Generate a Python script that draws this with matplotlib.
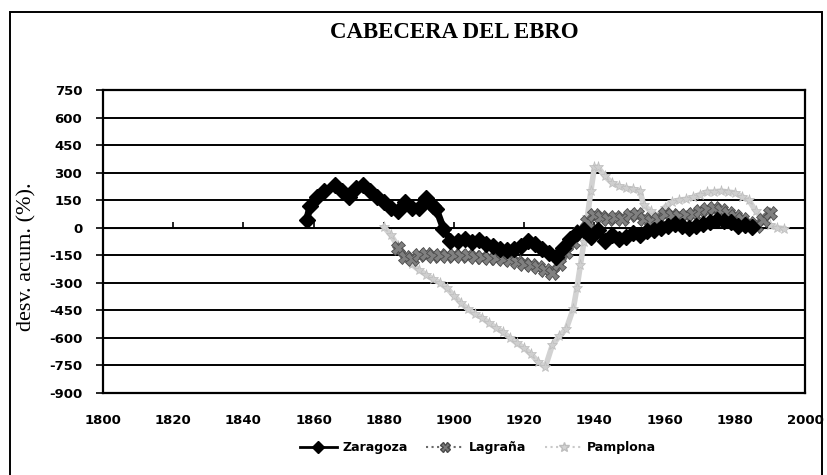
import matplotlib
matplotlib.use("Agg")
import matplotlib.pyplot as plt
from matplotlib.lines import Line2D
from matplotlib.patches import Rectangle

plt.rcParams['axes.unicode_minus'] = False

# series (year, cumulative deviation %)
zar_years = [1858, 1859, 1861, 1863, 1866, 1868, 1870, 1872, 1874, 1876, 1878, 1880,
             1882, 1884, 1886, 1888, 1890, 1892, 1894, 1895, 1897, 1899, 1901, 1903,
             1905, 1907, 1909, 1911, 1913, 1915, 1917, 1919, 1921, 1923, 1925, 1927,
             1929, 1931, 1933, 1935, 1937, 1939, 1941, 1943, 1945, 1947, 1949, 1951,
             1953, 1955, 1957, 1959, 1961, 1963, 1965, 1967, 1969, 1971, 1973, 1975,
             1977, 1979, 1981, 1983, 1985]
zar_vals = [40, 120, 170, 200, 230, 200, 165, 215, 230, 200, 170, 140,
            110, 90, 140, 110, 110, 160, 120, 100, -5, -70, -70, -60,
            -80, -65, -90, -100, -115, -120, -115, -100, -70, -90, -115, -140,
            -160, -110, -60, -30, -15, -50, -10, -70, -40, -60, -50, -30,
            -40, -20, -10, 0, 10, 20, 10, 0, 10, 20, 30, 40,
            35, 30, 10, 15, 5]

log_years = [1884, 1886, 1888, 1890, 1892, 1894, 1896, 1898, 1900, 1902, 1904, 1906,
             1908, 1910, 1912, 1914, 1916, 1918, 1920, 1922, 1924, 1926, 1928, 1930,
             1932, 1934, 1936, 1938, 1940, 1942, 1944, 1946, 1948, 1950, 1952, 1954,
             1956, 1958, 1960, 1962, 1964, 1966, 1968, 1970, 1972, 1974, 1976, 1978,
             1980, 1982, 1984, 1986, 1988, 1990]
log_vals = [-110, -160, -170, -150, -145, -155, -150, -155, -150, -155, -150, -160,
            -160, -165, -165, -170, -175, -185, -195, -205, -215, -230, -245, -200,
            -130, -80, -20, 30, 70, 60, 45, 60, 50, 70, 75, 50,
            35, 50, 75, 70, 65, 70, 75, 90, 100, 105, 95, 80,
            65, 50, 25, 10, 40, 80]

pam_years = [1880, 1882, 1884, 1886, 1888, 1890, 1892, 1894, 1896, 1898, 1900, 1902,
             1904, 1906, 1908, 1910, 1912, 1914, 1916, 1918, 1920, 1922, 1924, 1926,
             1928, 1930, 1932, 1934, 1935, 1936, 1937, 1938, 1939, 1940, 1941, 1943,
             1945, 1947, 1949, 1951, 1953, 1954, 1956, 1958, 1960, 1962, 1964, 1966,
             1968, 1970, 1972, 1974, 1976, 1978, 1980, 1982, 1984, 1986, 1988, 1990,
             1992, 1994]
pam_vals = [5, -40, -100, -170, -200, -230, -255, -280, -300, -330, -370, -410,
            -445, -470, -490, -520, -545, -570, -600, -630, -655, -690, -730, -760,
            -640, -590, -550, -440, -330, -205, -80, 60, 200, 330, 330, 280,
            245, 225, 215, 210, 200, 125, 90, 65, 110, 140, 150, 155,
            165, 180, 195, 195, 200, 195, 190, 170, 150, 90, 50, 15,
            0, -5]

y_ticks = [750, 600, 450, 300, 150, 0, -150, -300, -450, -600, -750, -900]
x_ticks = [1800, 1820, 1840, 1860, 1880, 1900, 1920, 1940, 1960, 1980, 2000]

tick_font = dict(family='DejaVu Sans', weight='bold', size=9.5)

fig = plt.figure(figsize=(8.27, 4.75), dpi=100)
ax = fig.add_axes([103 / 827, 82 / 475, 702 / 827, 303 / 475])

# horizontal black grid lines at every y tick
for v in y_ticks:
    ax.axhline(v, color='black', lw=1.4, zorder=1)

ax.plot(pam_years, pam_vals, color='#d2d2d2', ls='-', lw=4,
        marker='*', ms=8, mfc='#cfcfcf', mec='#bdbdbd', mew=0.5, zorder=2)
ax.plot(log_years, log_vals, color='#707070', ls='-', lw=6,
        marker='X', ms=10, mfc='#808080', mec='#4a4a4a', mew=0.6, zorder=3)
ax.plot(zar_years, zar_vals, color='black', lw=5,
        marker='D', ms=8, mfc='black', mec='black', zorder=4)

ax.set_xlim(1800, 2000)
ax.set_ylim(-900, 750)
ax.set_yticks(y_ticks)
ax.set_yticklabels([str(v) for v in y_ticks], fontdict=tick_font)
ax.set_xticks(x_ticks)
ax.set_xticklabels([str(v) for v in x_ticks], fontdict=tick_font)
ax.tick_params(axis='y', length=5, width=1.2, pad=10)
ax.tick_params(axis='x', length=0, pad=15)
for s in ax.spines.values():
    s.set_linewidth(1.6)
    s.set_color('black')

# tick marks hanging from the zero line
sec = ax.secondary_xaxis(900 / 1650)
sec.set_xticks(x_ticks)
sec.tick_params(axis='x', direction='out', length=4, width=1.2, labelbottom=False)
sec.set_xticklabels([])
sec.spines['bottom'].set_visible(False)

ax.set_ylabel('desv. acum. (%).', family='Liberation Serif', fontsize=16)
ax.yaxis.set_label_coords(-0.095, 0.45)

fig.text(454 / 827, 1 - 32 / 475, 'CABECERA DEL EBRO', family='Liberation Serif',
         weight='bold', fontsize=16.5, ha='center', va='center')

handles = [
    Line2D([], [], color='black', lw=2, marker='D', ms=6, mfc='black'),
    Line2D([], [], color='#6a6a6a', ls=':', lw=1.5, marker='X', ms=7,
           mfc='#7a7a7a', mec='#4a4a4a'),
    Line2D([], [], color='#c9c9c9', ls=':', lw=1.5, marker='*', ms=7,
           mfc='#d4d4d4', mec='#bdbdbd'),
]
fig.legend(handles, ['Zaragoza', 'Lagraña', 'Pamplona'], loc='center',
           bbox_to_anchor=(478 / 827, 1 - 448 / 475), ncol=3, frameon=False,
           prop=dict(family='DejaVu Sans', weight='bold', size=9),
           handlelength=3, columnspacing=1.5, handletextpad=0.4)

# outer frame of the figure
fig.patches.append(Rectangle((10 / 827, -0.05), 812 / 827, 1.05 - 12 / 475,
                             transform=fig.transFigure, fill=False,
                             edgecolor='black', lw=1.4))

fig.savefig('out.png', dpi=100)
